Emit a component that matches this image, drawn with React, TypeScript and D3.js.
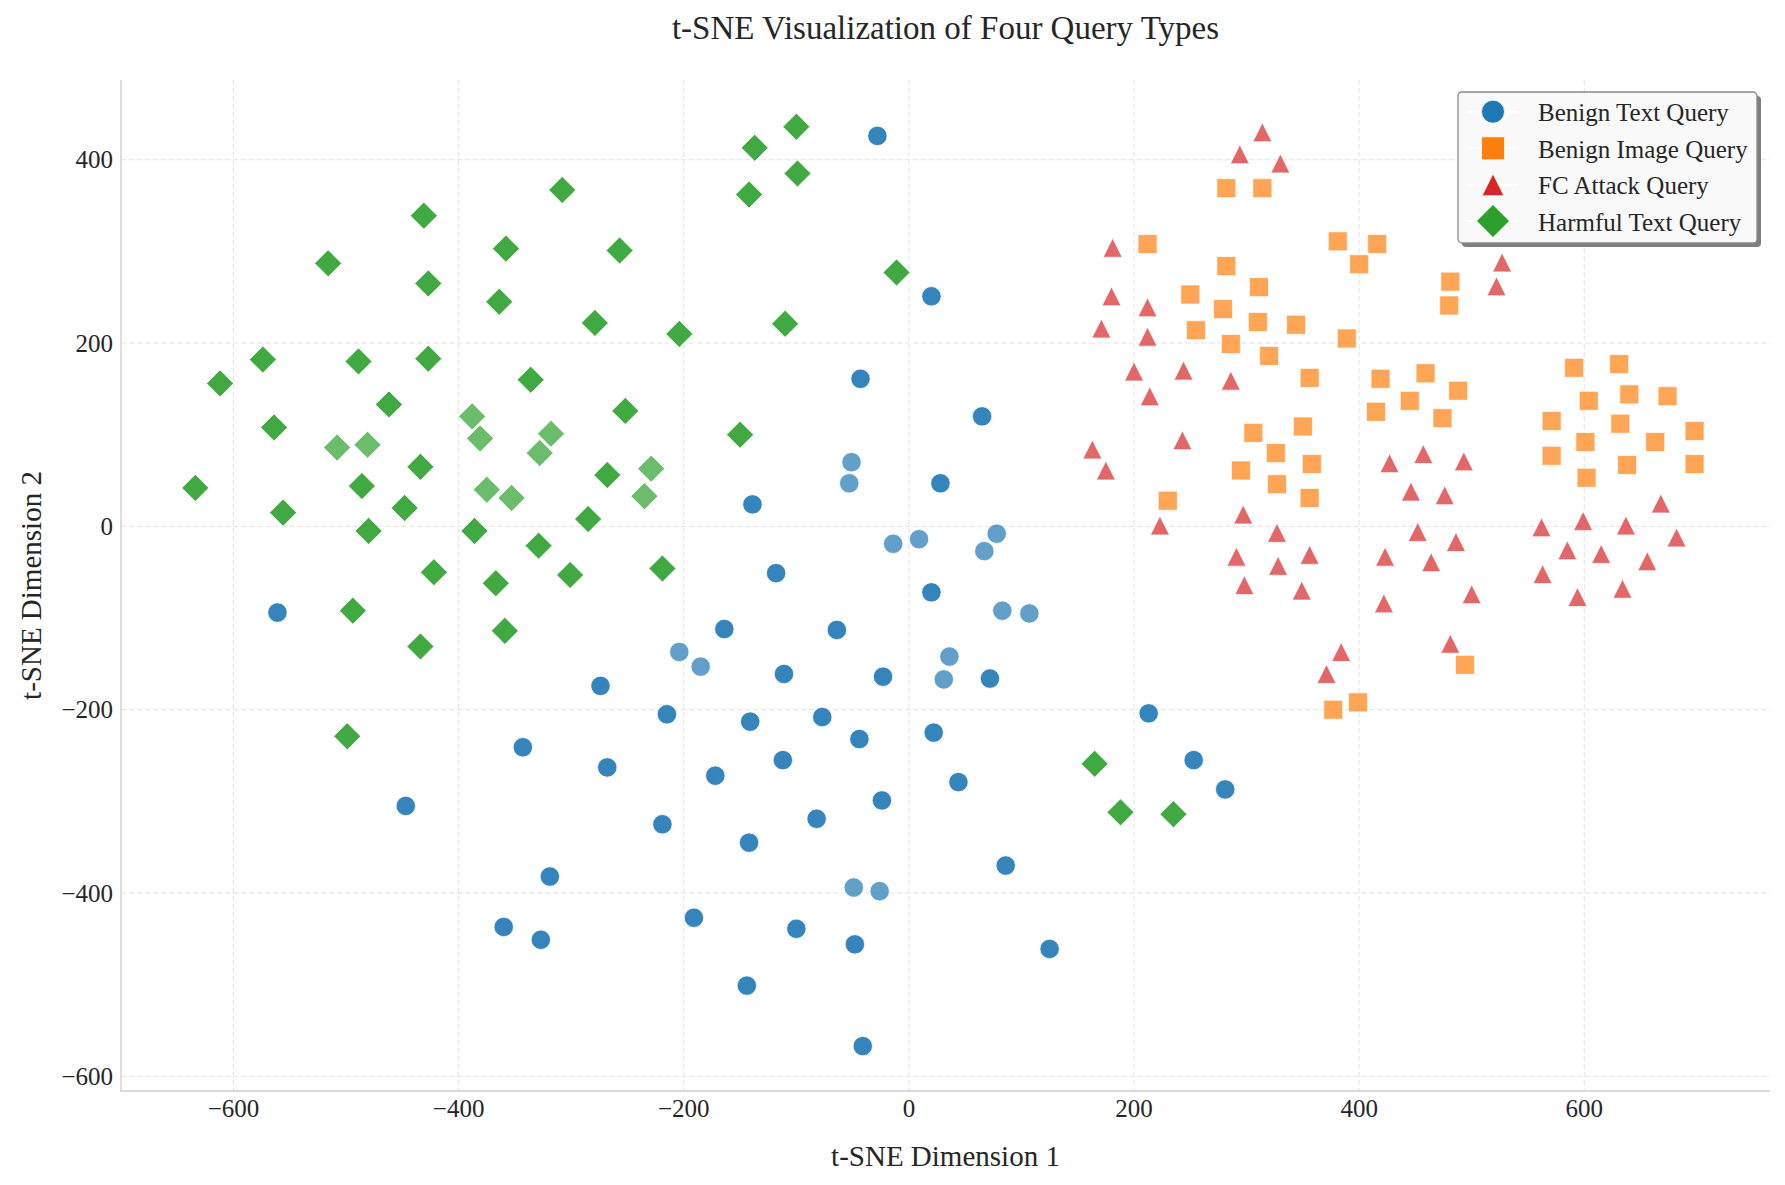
import React from 'react';
import * as d3 from 'd3';

const W = 1785;
const H = 1185;
const PLOT = { left: 121, right: 1770, top: 80, bottom: 1091 };

const xDomain: [number, number] = [-700, 765];
const yDomain: [number, number] = [-616, 487];
const xTicks = [-600, -400, -200, 0, 200, 400, 600];
const yTicks = [-600, -400, -200, 0, 200, 400];

const titleText = 't-SNE Visualization of Four Query Types';
const xLabel = 't-SNE Dimension 1';
const yLabel = 't-SNE Dimension 2';
const seriesNames = ['Benign Text Query', 'Benign Image Query', 'FC Attack Query', 'Harmful Text Query'];

type P = [number, number];

const benignText: P[] = [
  [-28, 426], [20, 251], [-43, 161], [65, 120], [28, 47], [-139, 24], [-561, -94], [-118, -51],
  [20, -72], [-164, -112], [-64, -113], [-274, -174], [-111, -161], [-23, -164], [72, -166],
  [-215, -205], [-141, -213], [-77, -208], [-44, -232], [22, -225], [-343, -241], [-268, -263],
  [-172, -272], [-112, -255], [-24, -299], [-82, -319], [-219, -325], [-142, -345], [44, -279],
  [-319, -382], [86, -370], [-191, -427], [-100, -439], [-327, -451], [-48, -456], [125, -461],
  [-144, -501], [-41, -567], [-447, -305], [-360, -437], [213, -204], [253, -255], [281, -287],
];
const benignTextFaint: P[] = [
  [-51, 70], [-53, 47], [-14, -19], [9, -14], [78, -8], [67, -27], [83, -92], [107, -95],
  [36, -142], [31, -167], [-204, -137], [-185, -153], [-49, -394], [-26, -398],
];
const benignImage: P[] = [
  [282, 369], [314, 369], [212, 308], [381, 311], [416, 308], [400, 286], [481, 267], [480, 241],
  [282, 284], [311, 261], [250, 253], [279, 237], [310, 223], [344, 220], [255, 214], [389, 205],
  [286, 199], [320, 186], [356, 162], [419, 161], [459, 167], [488, 148], [445, 137], [415, 125],
  [474, 118], [350, 109], [306, 102], [326, 80], [295, 61], [358, 68], [327, 46], [356, 31],
  [230, 28], [377, -200], [399, -192], [494, -151],
  [591, 173], [631, 177], [604, 137], [640, 144], [674, 142], [571, 115], [632, 112], [698, 104],
  [601, 92], [663, 92], [571, 77], [638, 67], [698, 68], [602, 53],
];
const fcAttack: P[] = [
  [314, 430], [294, 406], [330, 396], [527, 288], [522, 262],
  [181, 304], [180, 251], [212, 239], [171, 216], [212, 207], [200, 169], [244, 170], [286, 159],
  [214, 142], [243, 94], [163, 84], [175, 61], [223, 1], [297, 13], [327, -7], [291, -33],
  [328, -43], [356, -31], [298, -64], [349, -70], [384, -137], [371, -161],
  [427, 69], [457, 79], [493, 71], [446, 38], [476, 34], [452, -6], [486, -17], [423, -33],
  [464, -39], [422, -84], [500, -74], [481, -128],
  [668, 25], [562, -1], [599, 6], [637, 1], [682, -12], [585, -26], [615, -30], [656, -38],
  [563, -52], [594, -77], [634, -68],
];
const harmfulText: P[] = [
  [-431, 339], [-358, 303], [-516, 287], [-427, 265], [-364, 245], [-574, 182], [-489, 180],
  [-427, 183], [-612, 156], [-336, 160], [-462, 133], [-564, 108], [-434, 65], [-634, 42],
  [-486, 44], [-448, 20], [-556, 15], [-480, -5], [-386, -5], [-422, -50], [-367, -62],
  [-100, 436], [-137, 413], [-99, 385], [-142, 362], [-308, 367], [-257, 301], [-11, 277],
  [-279, 222], [-204, 210], [-110, 221], [-252, 126], [-150, 100], [-268, 56], [-285, 8],
  [-329, -21], [-301, -53], [-219, -46], [-494, -92], [-434, -131], [-359, -114], [-499, -229],
  [165, -259], [188, -312], [235, -314],
];
const harmfulTextFaint: P[] = [
  [-388, 120], [-381, 96], [-508, 86], [-481, 89], [-375, 40], [-353, 31], [-318, 101],
  [-328, 80], [-229, 63], [-235, 33],
];

const BLUE = '#1f77b4';
const ORANGE = '#ff7f0e';
const RED = '#d62728';
const GREEN = '#2ca02c';

// custom matplotlib-like marker shapes; size = half extent
const mplTriangle = {
  draw(ctx: any, s: number) {
    ctx.moveTo(0, -s);
    ctx.lineTo(-s, s);
    ctx.lineTo(s, s);
    ctx.closePath();
  },
};
const mplDiamond = {
  draw(ctx: any, s: number) {
    ctx.moveTo(0, -s);
    ctx.lineTo(s, 0);
    ctx.lineTo(0, s);
    ctx.lineTo(-s, 0);
    ctx.closePath();
  },
};
const mplSquare = {
  draw(ctx: any, s: number) {
    ctx.rect(-s, -s, 2 * s, 2 * s);
  },
};
const mplCircle = {
  draw(ctx: any, s: number) {
    ctx.moveTo(s, 0);
    ctx.arc(0, 0, s, 0, 2 * Math.PI);
  },
};

const FONT = "'Liberation Serif', 'Times New Roman', Times, serif";

export default function App() {
  const x = d3.scaleLinear().domain(xDomain).range([PLOT.left, PLOT.right]);
  const y = d3.scaleLinear().domain(yDomain).range([PLOT.bottom, PLOT.top]);

  const sym = (type: any, s: number) => d3.symbol().type(type).size(s)() as string;

  const layers = [
    { data: benignText, type: mplCircle, s: 9.7, color: BLUE, op: 0.9 },
    { data: benignTextFaint, type: mplCircle, s: 9.7, color: BLUE, op: 0.7 },
    { data: benignImage, type: mplSquare, s: 9.5, color: ORANGE, op: 0.7 },
    { data: fcAttack, type: mplTriangle, s: 9.5, color: RED, op: 0.7 },
    { data: harmfulText, type: mplDiamond, s: 13.5, color: GREEN, op: 0.9 },
    { data: harmfulTextFaint, type: mplDiamond, s: 13.5, color: GREEN, op: 0.7 },
  ];

  const legendItems = [
    { name: seriesNames[0], type: mplCircle, s: 11.5, color: BLUE },
    { name: seriesNames[1], type: mplSquare, s: 11.5, color: ORANGE },
    { name: seriesNames[2], type: mplTriangle, s: 11, color: RED },
    { name: seriesNames[3], type: mplDiamond, s: 16.5, color: GREEN },
  ];
  const LX = 1458, LY = 92, LW = 299, LH = 151;
  const rowY = [111.7, 148.3, 184.8, 221];

  return (
    <div style={{ position: 'absolute', left: 0, top: 0 }}>
      <svg width={W} height={H} style={{ display: 'block', background: '#fff' }} fontFamily={FONT}>
        {/* grid */}
        <g>
          {xTicks.map((t) => (
            <line key={'gx' + t} x1={x(t)} x2={x(t)} y1={PLOT.top} y2={PLOT.bottom}
              stroke="#e3e3e3" strokeWidth={1} strokeDasharray="5,3" />
          ))}
          {yTicks.map((t) => (
            <line key={'gy' + t} x1={PLOT.left} x2={PLOT.right} y1={y(t)} y2={y(t)}
              stroke="#e3e3e3" strokeWidth={1} strokeDasharray="5,3" />
          ))}
        </g>
        {/* spines */}
        <line x1={PLOT.left} x2={PLOT.left} y1={PLOT.top} y2={PLOT.bottom + 0.6} stroke="#cccccc" strokeWidth={1.3} />
        <line x1={PLOT.left - 0.6} x2={PLOT.right} y1={PLOT.bottom} y2={PLOT.bottom} stroke="#cccccc" strokeWidth={1.3} />

        {/* tick labels */}
        {xTicks.map((t) => (
          <text key={'tx' + t} x={x(t)} y={1108} textAnchor="middle" dominantBaseline="central"
            fontSize={25} fill="#262626">{t < 0 ? '\u2212' + Math.abs(t) : String(t)}</text>
        ))}
        {yTicks.map((t) => (
          <text key={'ty' + t} x={113} y={y(t)} textAnchor="end" dominantBaseline="central"
            fontSize={25} fill="#262626">{t < 0 ? '\u2212' + Math.abs(t) : String(t)}</text>
        ))}

        {/* axis labels and title */}
        <text x={(PLOT.left + PLOT.right) / 2} y={1156} textAnchor="middle" dominantBaseline="central"
          fontSize={29} fill="#262626">{xLabel}</text>
        <text transform={`translate(31, ${(PLOT.top + PLOT.bottom) / 2}) rotate(-90)`} textAnchor="middle"
          dominantBaseline="central" fontSize={29} fill="#262626">{yLabel}</text>
        <text x={(PLOT.left + PLOT.right) / 2} y={28} textAnchor="middle" dominantBaseline="central"
          fontSize={33} fill="#262626">{titleText}</text>

        {/* points */}
        {layers.map((L, li) => (
          <g key={'L' + li}>
            {L.data.map((d, i) => (
              <path key={i} d={sym(L.type, L.s)} transform={`translate(${x(d[0])},${y(d[1])})`}
                fill={L.color} fillOpacity={L.op} stroke="#ffffff" strokeWidth={0.8} strokeOpacity={0.9} />
            ))}
          </g>
        ))}

        {/* legend */}
        <g>
          <rect x={LX + 4} y={LY + 4} width={LW} height={LH} rx={4} fill="#7f7f7f" />
          <rect x={LX} y={LY} width={LW} height={LH} rx={4} fill="#f9f9f9" stroke="#8a8a8a" strokeWidth={1.3} />
          {legendItems.map((it, i) => (
            <g key={'lg' + i}>
              <line x1={1468} x2={1518} y1={rowY[i]} y2={rowY[i]} stroke="#ffffff" strokeWidth={2} />
              <path d={sym(it.type, it.s)} transform={`translate(1493,${rowY[i]})`} fill={it.color}
                stroke="#ffffff" strokeWidth={0.8} />
              <text x={1538} y={rowY[i] + 1} dominantBaseline="central" fontSize={25} fill="#262626">{it.name}</text>
            </g>
          ))}
        </g>
      </svg>
    </div>
  );
}
